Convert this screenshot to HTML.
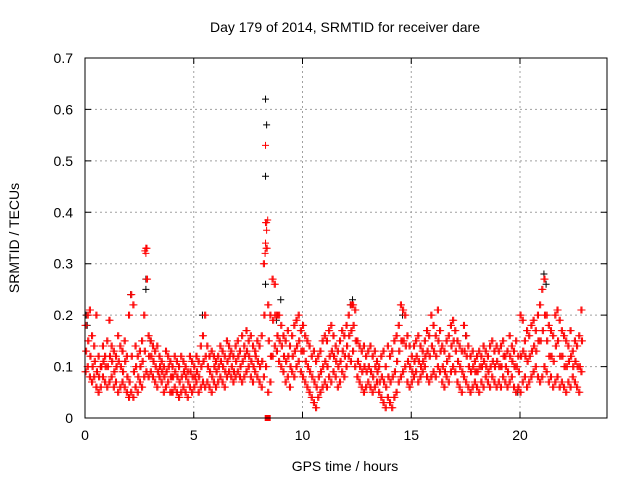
<!DOCTYPE html>
<html><head><meta charset="utf-8">
<style>
html,body{margin:0;padding:0;background:#fff;}
svg{display:block;font-family:"Liberation Sans",sans-serif;}
</style></head>
<body>
<svg id="chart" width="640" height="480" xmlns="http://www.w3.org/2000/svg">
<text x="345" y="32" font-size="14" text-anchor="middle" fill="#000">Day 179 of 2014, SRMTID for receiver dare</text>
<text x="345" y="471" font-size="14" text-anchor="middle">GPS time / hours</text>
<text transform="translate(19,238) rotate(-90)" font-size="14" text-anchor="middle">SRMTID / TECUs</text>
<g id="grid"></g>
<g id="ticks"></g>
<g id="marks"></g>
<rect x="85" y="58" width="522" height="360" fill="none" stroke="#000" stroke-width="1"/>
</svg>
<script>
const xTicks=[0,5,10,15,20];
const yTicks=[0,0.1,0.2,0.3,0.4,0.5,0.6,0.7];
const yTickLabels=["0","0.1","0.2","0.3","0.4","0.5","0.6","0.7"];
const tStart=0, tStep=0.1;
const redHi=[.18,.2,.21,.16,.14,.2,.12,.1,.14,.12,
.15,.19,.14,.13,.12,.16,.14,.13,.15,.12,
.2,.24,.22,.14,.12,.13,.15,.2,.33,.16,
.15,.14,.13,.14,.12,.11,.1,.13,.12,.11,
.1,.12,.11,.1,.12,.11,.1,.09,.12,.11,
.1,.12,.11,.14,.16,.2,.14,.12,.13,.12,
.11,.12,.14,.13,.12,.15,.14,.13,.12,.14,
.15,.13,.16,.14,.17,.15,.16,.14,.13,.15,
.14,.16,.3,.38,.22,.2,.27,.26,.2,.2,
.18,.16,.15,.17,.14,.16,.18,.19,.2,.17,
.18,.16,.15,.14,.12,.13,.11,.12,.13,.15,
.16,.15,.17,.18,.16,.14,.13,.15,.17,.16,
.18,.2,.22,.22,.21,.15,.14,.13,.14,.12,
.13,.14,.12,.13,.11,.1,.12,.13,.1,.14,
.12,.13,.15,.16,.18,.22,.21,.2,.16,.14,
.12,.14,.15,.16,.14,.13,.15,.17,.16,.2,
.18,.16,.21,.17,.14,.13,.15,.16,.18,.19,
.17,.15,.14,.13,.18,.16,.14,.12,.13,.11,
.12,.13,.12,.14,.13,.12,.14,.15,.13,.14,
.13,.14,.15,.12,.13,.16,.14,.13,.15,.12,
.2,.19,.15,.17,.16,.18,.19,.17,.2,.22,
.25,.27,.2,.18,.17,.16,.2,.21,.19,.17,
.16,.15,.14,.17,.13,.15,.14,.16,.21];
const redMid=[.13,.15,.12,.1,.11,.09,.08,.1,.11,.1,
.1,.12,.11,.09,.1,.11,.1,.09,.11,.08,
.07,.12,.09,.1,.08,.1,.11,.13,.27,.12,
.12,.11,.1,.09,.1,.09,.08,.09,.1,.08,
.08,.09,.08,.07,.08,.09,.08,.07,.09,.08,
.08,.09,.08,.1,.11,.12,.1,.09,.08,.1,
.09,.1,.11,.1,.09,.11,.12,.1,.09,.11,
.12,.1,.11,.12,.13,.12,.11,.1,.12,.11,
.1,.11,.2,.33,.15,.12,.19,.2,.16,.15,
.14,.12,.11,.12,.1,.12,.13,.14,.15,.13,
.13,.11,.1,.09,.08,.07,.06,.08,.09,.1,
.11,.1,.12,.13,.12,.11,.1,.11,.13,.12,
.14,.16,.17,.18,.15,.11,.1,.09,.1,.09,
.1,.09,.08,.1,.09,.07,.08,.07,.06,.08,
.07,.08,.09,.11,.13,.15,.15,.14,.11,.1,
.09,.11,.12,.11,.1,.11,.12,.13,.12,.14,
.13,.12,.15,.13,.1,.09,.11,.12,.14,.15,
.13,.11,.1,.09,.13,.12,.1,.09,.1,.09,
.09,.1,.1,.11,.1,.09,.1,.11,.1,.11,
.1,.1,.12,.1,.09,.12,.11,.1,.1,.09,
.12,.13,.12,.11,.12,.13,.14,.13,.15,.15,
.17,.2,.15,.12,.12,.11,.14,.15,.12,.12,
.1,.1,.11,.12,.1,.11,.1,.1,.15];
const redLo=[.09,.1,.08,.07,.08,.06,.05,.06,.08,.07,
.06,.07,.08,.06,.07,.05,.06,.07,.06,.05,
.04,.05,.04,.06,.05,.07,.06,.08,.09,.08,
.09,.08,.07,.06,.08,.07,.05,.06,.07,.05,
.05,.06,.05,.04,.05,.06,.05,.04,.06,.05,
.06,.07,.05,.06,.07,.06,.07,.06,.05,.07,
.06,.07,.08,.07,.06,.08,.09,.08,.07,.08,
.09,.08,.07,.08,.09,.1,.08,.07,.09,.08,
.07,.06,.08,.1,.05,.07,.12,.14,.13,.11,
.1,.09,.07,.08,.06,.09,.08,.1,.11,.09,
.08,.07,.06,.05,.04,.03,.02,.04,.05,.06,
.07,.06,.08,.07,.09,.08,.06,.07,.09,.08,
.1,.12,.11,.13,.1,.08,.07,.06,.05,.06,
.07,.06,.05,.06,.07,.05,.04,.03,.02,.04,
.03,.02,.04,.05,.07,.08,.09,.1,.07,.06,
.07,.08,.09,.07,.08,.09,.1,.08,.07,.08,
.09,.08,.1,.09,.07,.06,.08,.07,.09,.1,
.09,.07,.06,.05,.08,.07,.06,.05,.06,.07,
.06,.05,.07,.06,.08,.07,.06,.08,.07,.06,
.07,.06,.08,.07,.06,.07,.08,.06,.05,.06,
.05,.07,.08,.06,.07,.08,.09,.1,.08,.07,
.08,.1,.09,.07,.08,.06,.07,.08,.06,.07,
.06,.05,.07,.06,.08,.07,.06,.05,.09];
const redSpikeT=[8.3,8.35,8.4,8.3,8.28,2.8,2.8,2.75];
const redSpikeV=[.53,.365,.385,.34,.32,.32,.33,.325];
const blackT=[8.3,8.35,8.3,8.3,2.8,2.8,5.4,12.3,21.1,2.1,9.0,19.9,8.8,0.1,0.05,21.2,12.2,14.6,3.0,17.5];
const blackV=[.62,.57,.47,.26,.27,.25,.2,.23,.28,.24,.23,.05,.19,.18,.2,.26,.22,.2,.15,.16];
const squareT=[8.4];
const squareV=[0];

const X0=85,X1=607,Y0=418,Y1=58,XMAX=24,YMAX=0.7;
const xs=t=>X0+t/XMAX*(X1-X0);
const ys=v=>Y0-v/YMAX*(Y0-Y1);
const NS="http://www.w3.org/2000/svg";
function mk(tag,attrs,parent){const e=document.createElementNS(NS,tag);for(const k in attrs)e.setAttribute(k,attrs[k]);parent.appendChild(e);return e;}
const grid=document.getElementById('grid'),ticks=document.getElementById('ticks'),marks=document.getElementById('marks');
xTicks.forEach((t,i)=>{
  const x=xs(t);
  if(t>0){const g=mk('line',{x1:x,x2:x,y1:Y0,y2:Y1,stroke:'#a0a0a0','stroke-dasharray':'2,3'},grid);
  
  }
  const tk=mk('path',{d:`M${x},${Y0}v-6M${x},${Y1}v6`,stroke:'#000'},ticks);
  
  
  const l=mk('text',{x:x,y:Y0+22,'font-size':14,'text-anchor':'middle'},ticks);l.textContent=String(t);
  
  
});
yTicks.forEach((v,i)=>{
  const y=ys(v);
  if(v>0&&v<YMAX){const g=mk('line',{x1:X0,x2:X1,y1:y,y2:y,stroke:'#a0a0a0','stroke-dasharray':'2,3'},grid);
  
  }
  const tk=mk('path',{d:`M${X0},${y}h6M${X1},${y}h-6`,stroke:'#000'},ticks);
  
  
  const l=mk('text',{x:X0-12,y:y+5,'font-size':14,'text-anchor':'end'},ticks);l.textContent=yTickLabels[i];
  
  
});
function cross(t,v,color,name){
  const x=xs(t),y=ys(v);
  const p=mk('path',{d:`M${x-3.5},${y}h7M${x},${y-3.5}v7`,stroke:color,'stroke-width':1,fill:'none'},marks);
  
  
}
blackT.forEach((t,i)=>cross(t,blackV[i],'#000','black-point'));
const offsets=[[0,0.05],[0.025,0.075],[0,0.05]];
[redHi,redMid,redLo].forEach((arr,k)=>{
  arr.forEach((v,i)=>{
    const t=tStart+i*tStep;
    offsets[k].forEach(o=>cross(t+o,v,'#f00','red-point'));
  });
});
redSpikeT.forEach((t,i)=>cross(t,redSpikeV[i],'#f00','red-spike-point'));
squareT.forEach((t,i)=>{
  const s=mk('rect',{x:xs(t)-3,y:ys(squareV[i])-3,width:6,height:6,fill:'#f00'},marks);
  
  
});
</script>
</body></html>
